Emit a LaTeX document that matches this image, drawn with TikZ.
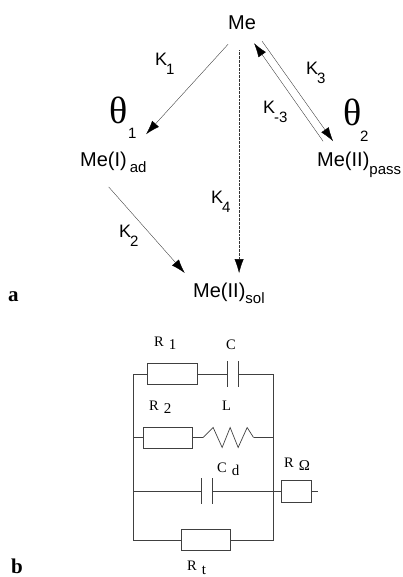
\documentclass[tikz,border=0pt]{standalone}
\usepackage{fontspec}
\setmainfont{Liberation Sans}
\newfontfamily\circfont{Liberation Serif}
\usetikzlibrary{positioning,arrows.meta}
\newcommand{\sublabel}[4][0pt]{#2\kern#1\raisebox{#4}{\fontsize{15}{15}\selectfont #3}}
\tikzset{
species/.style={
anchor=base west,
inner sep=0pt,
font=\fontsize{20}{22}\selectfont
},
rate/.style={
anchor=base west,
inner sep=0pt,
font=\fontsize{18}{20}\selectfont
},
coverage/.style={
anchor=base west,
inner sep=0pt,
font=\circfont\fontsize{38}{40}\selectfont
},
panel/.style={
anchor=base west,
inner sep=0pt,
font=\circfont\bfseries\fontsize{21}{22}\selectfont
},
resistor/.style={
draw=black!75,
line width=0.8pt,
minimum width=49.5pt,
minimum height=21pt,
inner sep=0pt
},
capacitor/.style={
minimum width=10pt,
minimum height=25pt,
inner sep=0pt
},
inductor/.style={
minimum width=50pt,
minimum height=20pt,
inner sep=0pt
},
element/.style={
anchor=base west,
inner sep=0pt,
font=\circfont\fontsize{14.5}{15}\selectfont
},
arrow/.style={
-{Latex[length=14pt,width=9pt,black]},
line width=0.35pt,
black!80
},
wire/.style={
line width=0.8pt,
black!75
}
}

\begin{document}
\begin{tikzpicture}[x=1pt,y=-1pt]
\useasboundingbox (0,0) rectangle (403,577);

\node[species](me) at (228,30){Me};
\node[species](ad) at (80,167){Me(I)\kern3pt\raisebox{-6pt}{\fontsize{15}{15}\selectfont ad}};
\node[species](pass) at (317,167){Me(II)\raisebox{-8pt}{\fontsize{15}{15}\selectfont pass}};
\node[species](sol) at (193,297){Me(II)\raisebox{-6pt}{\fontsize{15}{15}\selectfont sol}};

\node[rate](k1) at (155,66){\sublabel[-1pt]{K}{1}{-9pt}};
\node[rate](k2) at (119,237){\sublabel[-1pt]{K}{2}{-9pt}};
\node[rate](k3) at (306,75){\sublabel[-1pt]{K}{3}{-9pt}};
\node[rate](km3) at (263,114){\sublabel[-1pt]{K}{-3}{-9pt}};
\node[rate](k4) at (211,204){\sublabel[-1pt]{K}{4}{-9pt}};

\node[coverage](t1) at (109,124){θ};
\node[coverage](t2) at (343,126){θ};
\node[species,font=\fontsize{15}{15}\selectfont](t1s) at (128,139){1};
\node[species,font=\fontsize{15}{15}\selectfont](t2s) at (360,142){2};

\draw[arrow]([shift={(-14,21)}]me.center)--([shift={(-96,111)}]me.center);
\draw[arrow]([shift={(-38,20)}]ad.base east)--([shift={(38,106)}]ad.base east);
\draw[arrow,densely dotted]([shift={(-3,27)}]me.center)--([shift={(-3,250)}]me.center);
\draw[arrow]([shift={(20,18)}]me.center)--([shift={(91,118)}]me.center);
\draw[arrow]([shift={(81,118)}]me.center)--([shift={(12,20)}]me.center);

\node[resistor](r1) at (172.5,374){};
\node[capacitor,right=30pt of r1](c1){};
\node[resistor](r2) at (168,437.5){};
\node[inductor,right=10pt of r2](l1){};
\node[capacitor](cd) at (207,491){};
\node[resistor](rt) at (206,540){};
\node[resistor,minimum width=30pt,minimum height=22pt](ro) at (296,491){};

\coordinate(tl) at (133.5,374);
\coordinate(tr) at (273,374);
\coordinate(ml) at (133.5,437.5);
\coordinate(mr) at (273,437.5);
\coordinate(dl) at (133.5,491);
\coordinate(dr) at (273,491);
\coordinate(bl) at (133.5,540);
\coordinate(br) at (273,540);
\coordinate(lead) at (318,491);

\draw[wire](tl)--(bl)--(rt.west);
\draw[wire](tr)--(br)--(rt.east);
\draw[wire](tl)--(r1.west);
\draw[wire](r1.east)--(c1.west);
\draw[wire](c1.east)--(tr);
\draw[wire](ml)--(r2.west);
\draw[wire](r2.east)--(l1.west);
\draw[wire](l1.east)--(mr);
\draw[wire](dl)--(cd.west);
\draw[wire](cd.east)--(dr);
\draw[wire](dr)--(ro.west);
\draw[wire](ro.east)--(lead);

\foreach \x in {c1,cd}{
\draw[wire](\x.north west)--(\x.south west);
\draw[wire](\x.north east)--(\x.south east);
}
\draw[wire,line width=0.7pt](l1.west)--++(10,-10)--++(9,20)--++(8,-20)--++(8,20)--++(9,-20)--(l1.east);

\node[element](lr1) at (154,346){\sublabel[5pt]{R}{1}{-3pt}};
\node[element](lc) at (226,349){C};
\node[element](lr2) at (149,410){\sublabel[5pt]{R}{2}{-3pt}};
\node[element](ll) at (222,410){L};
\node[element](lcd) at (217,472){\sublabel[5pt]{C}{d}{-3pt}};
\node[element](lro) at (284,467){\sublabel[5pt]{R}{Ω}{-3pt}};
\node[element](lrt) at (187,570){\sublabel[5pt]{R}{t}{-4pt}};

\node[panel](pa) at (8,301){a};
\node[panel](pb) at (11,573){b};
\end{tikzpicture}
\end{document}
